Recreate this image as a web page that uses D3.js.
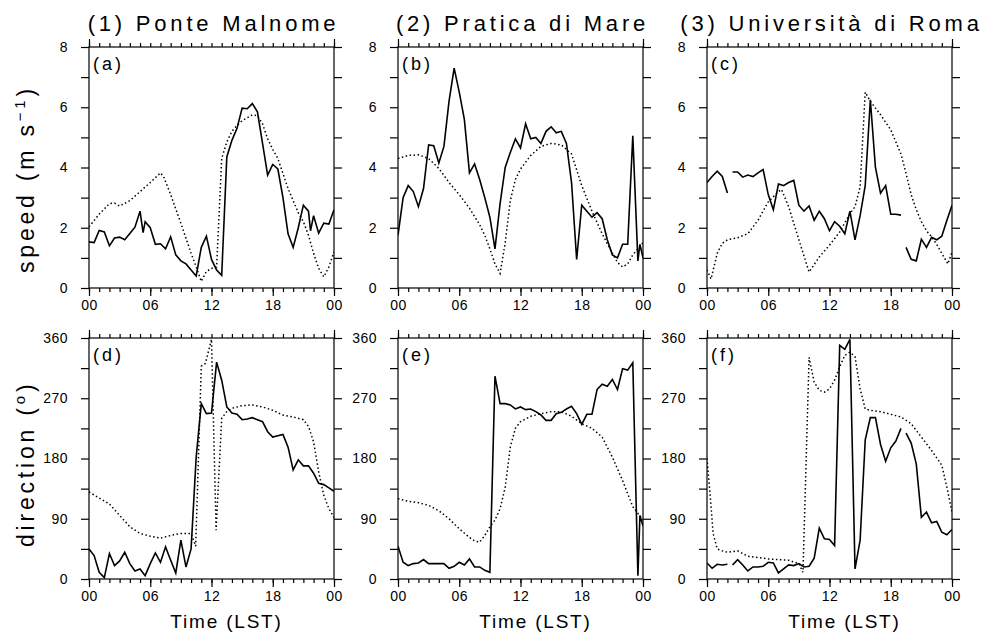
<!DOCTYPE html>
<html><head><meta charset="utf-8">
<script src="https://cdn.jsdelivr.net/npm/d3@7"></script>
<style>
body{margin:0;background:#fff}
svg{display:block}
text{font-family:"Liberation Sans",Arial,Helvetica,sans-serif;fill:#000}
</style>
</head><body>
<script>
// ---------------- DATA ----------------
const stations = ["(1) Ponte Malnome", "(2) Pratica di Mare", "(3) Università di Roma"];
const panelLetters = ["(a)", "(b)", "(c)", "(d)", "(e)", "(f)"];
const timeTickValues = [0, 6, 12, 18, 24];
const timeTickLabels = ["00", "06", "12", "18", "00"];
const speedTicks = [0, 2, 4, 6, 8];
const dirTicks = [0, 90, 180, 270, 360];

// (a) Ponte Malnome – speed
const aObsT = [0,0.5,1,1.5,2,2.5,3,3.5,4,4.5,5,5.3,5.5,6,6.5,7,7.5,8,8.5,9,9.5,10,10.5,11,11.5,12,12.5,13,13.5,14,14.5,15,15.5,16,16.5,17,17.5,18,18.5,19,19.5,20,20.5,21,21.5,21.7,22,22.5,23,23.5,24];
const aObsV = [1.53,1.51,1.91,1.86,1.40,1.66,1.69,1.60,1.81,2.02,2.55,1.84,2.2,2.0,1.45,1.47,1.3,1.7,1.1,0.9,0.8,0.6,0.4,1.35,1.72,0.95,0.6,0.42,4.35,4.9,5.3,5.97,5.95,6.12,5.85,4.8,3.75,4.1,3.95,3.0,1.8,1.35,2.0,2.75,2.55,1.9,2.4,1.82,2.15,2.12,2.6];
const aModT = [0,1,2,2.5,3,4,5,6,7,7.3,8,9,10,10.5,11,11.5,12,12.5,13,13.5,14,14.5,15,16,16.5,17,17.5,18,18.5,19,19.5,20,20.5,21,21.5,22,22.5,23,23.5,24];
const aModV = [2.03,2.45,2.8,2.82,2.72,2.9,3.2,3.5,3.82,3.7,3.1,2.15,1.15,0.7,0.22,0.55,0.65,0.7,4.3,4.85,5.2,5.4,5.55,5.75,5.72,5.45,4.95,4.6,4.3,3.8,3.3,2.9,2.5,2.2,1.75,1.15,0.65,0.37,0.7,1.2];

// (b) Pratica di Mare – speed
const bObsT = [0,0.5,1,1.5,2,2.5,3,3.5,4,4.5,5,5.5,6,6.5,7,7.5,8,8.5,9,9.5,10,10.5,11,11.5,12,12.5,13,13.5,14,14.5,15,15.5,16,16.5,17,17.5,18,18.5,19,19.5,20,20.5,21,21.5,22,22.5,23,23.5,23.7,24];
const bObsV = [1.75,3.0,3.4,3.2,2.7,3.3,4.75,4.72,4.15,4.7,6.2,7.3,6.5,5.6,3.82,4.12,3.6,3.0,2.35,1.3,2.8,4.0,4.5,4.95,4.65,5.45,4.95,5.0,4.8,5.2,5.35,5.15,5.2,4.8,3.5,0.95,2.75,2.55,2.35,2.5,2.3,1.6,1.1,1.0,1.45,1.45,5.05,0.9,1.45,1.0];
const bModT = [0,1,2,3,4,5,6,7,8,8.5,9,9.5,10,10.5,11,11.5,12,13,14,15,16,17,18,19,20,21,21.5,22,22.5,23,24];
const bModV = [4.3,4.4,4.42,4.3,3.97,3.5,3.1,2.65,2.1,1.75,1.3,0.8,0.48,1.5,2.9,3.6,3.95,4.4,4.7,4.8,4.75,4.45,3.4,2.55,1.8,1.15,0.85,0.7,0.8,1.1,1.5];

// (c) Università di Roma – speed (null = missing observation)
const cObsT = [0,0.5,1,1.5,2,2.25,2.5,3,3.5,4,4.5,5,5.5,6,6.5,7,7.5,8,8.5,9,9.5,10,10.5,11,11.5,12,12.5,13,13.5,14,14.5,15,15.5,16,16.5,17,17.5,18,18.5,19,19.25,19.5,20,20.5,21,21.5,22,22.5,23,23.5,24];
const cObsV = [3.5,3.7,3.88,3.7,3.15,null,3.85,3.85,3.68,3.75,3.7,3.82,3.93,3.1,2.6,3.45,3.4,3.5,3.57,2.75,2.55,2.72,2.25,2.55,2.3,1.9,2.2,2.05,1.8,2.55,1.6,2.4,3.4,6.25,4.0,3.15,3.4,2.45,2.45,2.42,null,1.35,0.95,0.9,1.62,1.35,1.68,1.6,1.72,2.25,2.75];
const cModT = [0,0.4,1,1.5,2,3,4,5,6,7,7.3,8,9,10,11,12,13,14,14.5,15,15.5,16,17,18,19,19.5,20,20.5,21,21.5,22,22.5,23,23.6,24];
const cModV = [0.6,0.3,1.15,1.48,1.6,1.67,1.8,2.25,2.86,3.2,3.27,2.7,1.6,0.53,1.03,1.42,1.86,2.47,2.7,3.36,6.5,6.2,5.75,5.25,4.45,3.8,3.1,2.6,2.2,1.9,1.7,1.45,1.15,0.8,1.2];

// (d) Ponte Malnome – direction
const dObsT = d3.range(0, 24.001, 0.5);
const dObsV = [45,35,10,2,38,20,27,40,23,12,15,5,23,39,25,48,28,9,58,18,45,182,262,247,248,324,297,257,248,246,238,239,241,238,235,220,212,214,216,197,163,178,169,169,158,143,141,136,131];
const dModT = [0,1,2,3,4,5,6,7,8,9,10,10.45,11,11.4,12,12.45,13,13.5,14,15,16,17,18,19,20,21,21.5,22,22.5,23,23.5,24];
const dModV = [130,121,112,95,78,68,64,61,65,68,68,49,318,322,358,73,240,250,255,259,260,257,252,245,242,238,228,205,160,125,105,92];

// (e) Pratica di Mare – direction
const eObsT = [0,0.5,1,1.5,2,2.5,3,3.5,4,4.5,5,5.5,6,6.5,7,7.5,8,8.5,9,9.5,10,10.5,11,11.5,12,12.5,13,13.5,14,14.5,15,15.5,16,16.5,17,17.5,18,18.5,19,19.5,20,20.5,21,21.5,22,22.5,23,23.5,23.7,24];
const eObsV = [49,25,20,23,24,29,23,23,23,23,16,19,25,21,30,18,18,13,10,303,262,262,260,254,257,253,254,250,245,237,237,247,249,254,258,247,231,246,246,283,291,288,298,283,314,312,323,5,95,79];
const eModT = [0,1,2,3,4,5,6,7,7.5,8,8.5,9,9.5,10,10.5,11,11.5,12,13,14,15,16,17,18,19,20,21,22,23,23.5,24];
const eModV = [120,116,114,110,102,90,75,62,57,55,65,78,88,105,137,197,225,235,243,247,250,250,243,232,225,212,182,147,108,98,88];

// (f) Università di Roma – direction (null = missing observation)
const fObsT = [0,0.5,1,1.5,2,2.25,2.5,3,3.5,4,4.5,5,5.5,6,6.5,7,7.5,8,8.5,9,9.5,10,10.5,11,11.5,12,12.5,13,13.5,14,14.5,15,15.5,16,16.5,17,17.5,18,18.5,19,19.25,19.5,20,20.5,21,21.5,22,22.5,23,23.5,24];
const fObsV = [24,16,22,21,22,null,21,29,21,12,18,18,19,25,24,9,15,21,20,23,18,19,31,76,60,59,50,349,343,358,15,58,208,241,241,201,176,196,206,225,null,218,203,172,92,100,84,86,70,66,74];
const fModT = [0,0.3,0.6,1,1.5,2,3,4,5,6,7,8,9,9.4,10,10.5,11,11.5,12,12.5,13,13.5,14,14.5,15,15.5,16,17,18,19,20,21,22,23,23.5,24];
const fModV = [180,127,68,45,42,40,42,34,32,30,29,28,23,10,331,294,282,279,284,297,317,334,339,332,284,254,252,250,246,242,232,212,192,170,137,100];

// ---------------- LAYOUT ----------------
const width = 984, height = 637;
const colX = [89, 398, 707];
const rowY = [47, 338];
const PW = 245, PH = 241;

const svg = d3.select("body").append("svg").attr("width", width).attr("height", height);

const panels = [
  {col:0,row:0,obsT:aObsT,obsV:aObsV,modT:aModT,modV:aModV,kind:"speed"},
  {col:1,row:0,obsT:bObsT,obsV:bObsV,modT:bModT,modV:bModV,kind:"speed"},
  {col:2,row:0,obsT:cObsT,obsV:cObsV,modT:cModT,modV:cModV,kind:"speed"},
  {col:0,row:1,obsT:dObsT,obsV:dObsV,modT:dModT,modV:dModV,kind:"dir"},
  {col:1,row:1,obsT:eObsT,obsV:eObsV,modT:eModT,modV:eModV,kind:"dir"},
  {col:2,row:1,obsT:fObsT,obsV:fObsV,modT:fModT,modV:fModV,kind:"dir"}
];

panels.forEach((p, i) => {
  const x0 = colX[p.col], y0 = rowY[p.row];
  const x = d3.scaleLinear().domain([0, 24]).range([x0, x0 + PW]);
  const isSpeed = p.kind === "speed";
  const y = d3.scaleLinear().domain(isSpeed ? [0, 8] : [0, 360]).range([y0 + PH, y0]);
  const majors = isSpeed ? speedTicks : dirTicks;
  const allY = isSpeed ? d3.range(0, 8.001, 1) : d3.range(0, 360.001, 45);
  const g = svg.append("g");

  // minor x ticks bottom/top
  const hours = d3.range(0, 24.001, 1);
  const axB = g.append("g").attr("transform", `translate(0,${y0 + PH})`)
    .call(d3.axisBottom(x).tickValues(hours).tickSize(4).tickFormat(""));
  const axT = g.append("g").attr("transform", `translate(0,${y0})`)
    .call(d3.axisTop(x).tickValues(hours).tickSize(4).tickFormat(""));
  // major x ticks with labels
  const axBM = g.append("g").attr("transform", `translate(0,${y0 + PH})`)
    .call(d3.axisBottom(x).tickValues(timeTickValues).tickSize(8).tickPadding(4)
      .tickFormat((d, k) => timeTickLabels[k]));
  const axTM = g.append("g").attr("transform", `translate(0,${y0})`)
    .call(d3.axisTop(x).tickValues([0, 24]).tickSize(8).tickFormat(""));
  // y ticks
  const axL = g.append("g").attr("transform", `translate(${x0},0)`)
    .call(d3.axisLeft(y).tickValues(allY).tickSize(8).tickPadding(13)
      .tickFormat(d => majors.includes(d) ? String(d) : ""));
  const axR = g.append("g").attr("transform", `translate(${x0 + PW},0)`)
    .call(d3.axisRight(y).tickValues(allY).tickSize(8).tickFormat(""));

  [axB, axT, axBM, axTM, axL, axR].forEach(a => {
    a.select(".domain").remove();
    a.selectAll("line").attr("stroke", "#000").attr("stroke-width", 1.2);
    a.selectAll("text").attr("font-size", 14).attr("letter-spacing", "0.5px")
      .style("font-family", '"Liberation Sans", Arial, sans-serif').attr("fill", "#000");
  });

  // frame
  g.append("rect").attr("x", x0).attr("y", y0).attr("width", PW).attr("height", PH)
    .attr("fill", "none").attr("stroke", "#000").attr("stroke-width", 1.2);

  // lines
  const clipId = "clip" + i;
  svg.append("clipPath").attr("id", clipId).append("rect")
    .attr("x", x0).attr("y", y0 - 2).attr("width", PW).attr("height", PH + 4);

  const modData = p.modT.map((t, k) => [t, p.modV[k]]);
  const obsData = p.obsT.map((t, k) => [t, p.obsV[k]]);
  const line = d3.line().defined(d => d[1] !== null).x(d => x(d[0])).y(d => y(d[1]));

  g.append("path").datum(modData).attr("d", line).attr("clip-path", `url(#${clipId})`)
    .attr("fill", "none").attr("stroke", "#000").attr("stroke-width", 1.5)
    .attr("stroke-dasharray", "1.5,2.5");
  g.append("path").datum(obsData).attr("d", line).attr("clip-path", `url(#${clipId})`)
    .attr("fill", "none").attr("stroke", "#000").attr("stroke-width", 1.6)
    .attr("stroke-linejoin", "miter");

  // panel letter
  g.append("text").attr("x", x0 + 4).attr("y", y0 + 23).attr("font-size", 18)
    .attr("letter-spacing", "3px").text(panelLetters[i]);

  // station title (top row)
  if (p.row === 0) {
    g.append("text").attr("x", x0 + PW / 2 + 2).attr("y", 31).attr("text-anchor", "middle")
      .attr("font-size", 22).attr("letter-spacing", "3.8px").text(stations[p.col]);
  }
  // time label (bottom row)
  if (p.row === 1) {
    g.append("text").attr("x", x0 + PW / 2 + 15).attr("y", 628).attr("text-anchor", "middle")
      .attr("font-size", 19).attr("letter-spacing", "1.8px").text("Time (LST)");
  }
});

// y-axis titles
const sp = svg.append("text").attr("transform", "translate(34,273) rotate(-90)")
  .attr("font-size", 23).attr("letter-spacing", "3.8px");
sp.append("tspan").text("speed (m s");
sp.append("tspan").attr("dy", -9).attr("font-size", 15).text("−1");
sp.append("tspan").attr("dy", 9).text(")");

const dr = svg.append("text").attr("transform", "translate(34,547) rotate(-90)")
  .attr("font-size", 23).attr("letter-spacing", "3.8px");
dr.append("tspan").text("direction (");
dr.append("tspan").attr("dy", -9).attr("font-size", 15).text("o");
dr.append("tspan").attr("dy", 9).text(")");
</script>
</body></html>
